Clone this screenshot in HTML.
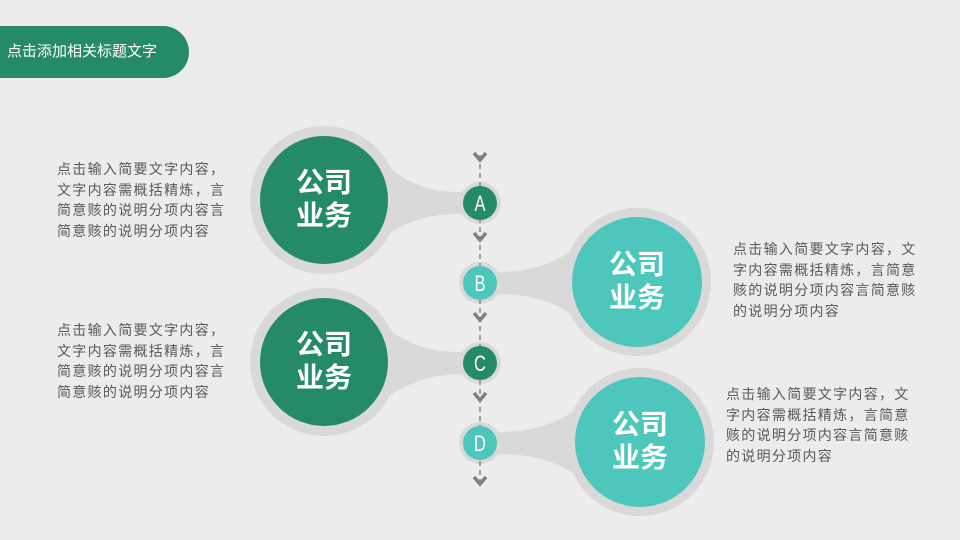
<!DOCTYPE html>
<html><head><meta charset="utf-8"><style>
body{margin:0;width:960px;height:540px;background:#ebeceb;overflow:hidden;position:relative;font-family:"Liberation Sans","Noto Sans CJK SC",sans-serif}
.bar{position:absolute;left:0;top:26px;width:189px;height:52px;background:#258a6a;border-radius:0 26px 26px 0;color:#fff;font-size:15px;line-height:52px;padding-left:7px;box-sizing:border-box}
.t{position:absolute;font-size:14px;letter-spacing:1.3px;line-height:20.5px;color:#595959;white-space:nowrap;font-family:"Noto Sans CJK SC",sans-serif}
svg{position:absolute;left:0;top:0}
</style></head><body>
<div class="bar">点击添加相关标题文字</div>
<svg width="960" height="540">
<g fill="#d9d9d9">
<circle cx="324" cy="200" r="74"/><circle cx="480" cy="203" r="21"/>
<path d="M385,165 C420,192 440,192 470,192 L470,214 C440,214 420,214 385,236 Z"/>
<circle cx="637" cy="282" r="74"/><circle cx="480" cy="283" r="21"/>
<path d="M578,246 C545,270 520,272 490,272 L490,294 C520,294 545,296 578,318 Z"/>
<circle cx="324" cy="362" r="74"/><circle cx="480" cy="363" r="21"/>
<path d="M385,327 C420,352 440,352 470,352 L470,374 C440,374 420,376 385,398 Z"/>
<circle cx="640" cy="442" r="74"/><circle cx="480" cy="443" r="21"/>
<path d="M581,406 C548,430 523,432 490,432 L490,454 C523,454 548,456 581,478 Z"/>
</g>
<line x1="480" y1="155" x2="480" y2="486" stroke="#888" stroke-width="1.5" stroke-dasharray="5,4"/>
<g fill="none" stroke="#7f7f7f" stroke-width="3.5">
<path d="M474,153 L480,160 L486,153"/><path d="M474,233 L480,240 L486,233"/><path d="M474,313 L480,320 L486,313"/><path d="M474,393 L480,400 L486,393"/><path d="M474,477 L480,484 L486,477"/>
</g>
<circle cx="324" cy="200" r="64" fill="#258a6a"/><circle cx="480" cy="203" r="17" fill="#258a6a"/>
<circle cx="637" cy="282" r="65" fill="#4dc6bb"/><circle cx="480" cy="283" r="17" fill="#4dc6bb"/>
<circle cx="324" cy="362" r="64" fill="#258a6a"/><circle cx="480" cy="363" r="17" fill="#258a6a"/>
<circle cx="640" cy="442" r="65" fill="#4dc6bb"/><circle cx="480" cy="443" r="17" fill="#4dc6bb"/>
<g fill="#fff" font-family="Liberation Sans Narrow,Liberation Sans,sans-serif" font-size="22" text-anchor="middle">
<text transform="translate(480,211) scale(0.75,1)">A</text><text transform="translate(480,291) scale(0.75,1)">B</text><text transform="translate(480,371) scale(0.75,1)">C</text><text transform="translate(480,451) scale(0.75,1)">D</text>
</g>
<g fill="#fff" font-family="Noto Sans CJK SC,sans-serif" font-weight="bold" font-size="28" text-anchor="middle">
<text x="324" y="192">公司</text><text x="324" y="225">业务</text>
<text x="637" y="274">公司</text><text x="637" y="307">业务</text>
<text x="324" y="354">公司</text><text x="324" y="387">业务</text>
<text x="640" y="434">公司</text><text x="640" y="467">业务</text>
</g>
</svg>
<div class="t" style="left:57px;top:159px">点击输入简要文字内容，<br>文字内容需概括精炼，言<br>简意赅的说明分项内容言<br>简意赅的说明分项内容</div>
<div class="t" style="left:57px;top:320px">点击输入简要文字内容，<br>文字内容需概括精炼，言<br>简意赅的说明分项内容言<br>简意赅的说明分项内容</div>
<div class="t" style="left:733px;top:239px">点击输入简要文字内容，文<br>字内容需概括精炼，言简意<br>赅的说明分项内容言简意赅<br>的说明分项内容</div>
<div class="t" style="left:726px;top:384px">点击输入简要文字内容，文<br>字内容需概括精炼，言简意<br>赅的说明分项内容言简意赅<br>的说明分项内容</div>
</body></html>
